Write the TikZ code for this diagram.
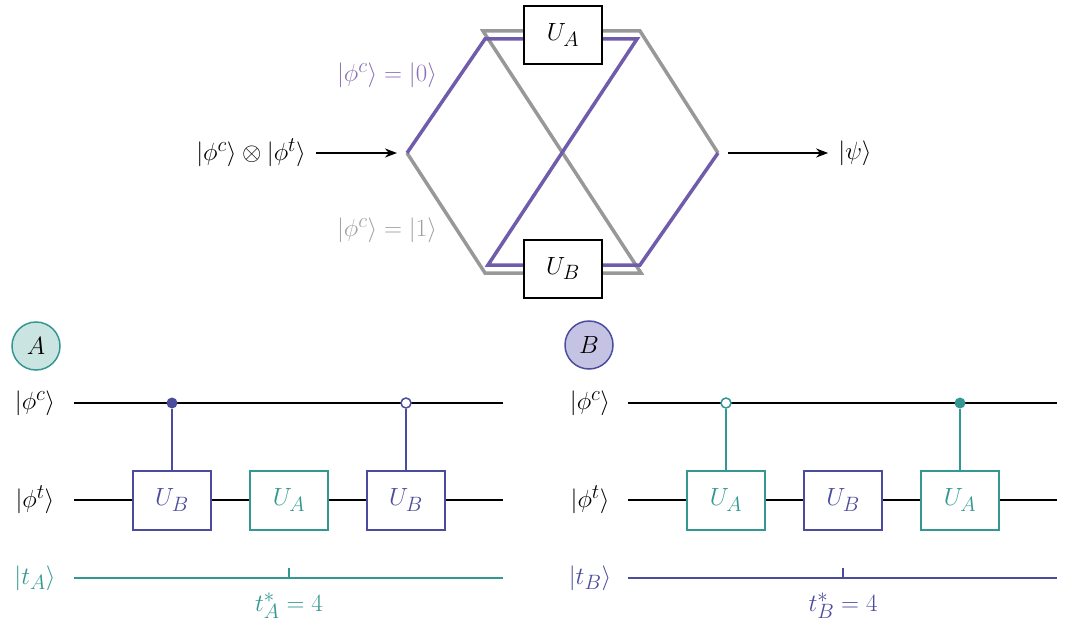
\documentclass[tikz,border=0pt]{standalone}
\usetikzlibrary{arrows.meta}
\definecolor{pathpurple}{RGB}{112,92,170}
\definecolor{labpurple}{RGB}{138,112,182}
\definecolor{pathgray}{RGB}{152,152,152}
\definecolor{labgray}{RGB}{160,160,160}
\definecolor{tealA}{RGB}{51,152,146}
\definecolor{tealfill}{RGB}{202,228,226}
\definecolor{indigoB}{RGB}{76,76,158}
\definecolor{indigofill}{RGB}{197,195,227}
\tikzset{
  lbl/.style={inner sep=0pt, font=\Huge},
  topbox/.style={draw=black, line width=2pt, fill=white, minimum width=78pt, minimum height=58pt, inner sep=0pt, font=\Huge},
  gate/.style={line width=2pt, fill=white, minimum width=78pt, minimum height=59pt, inner sep=0pt, font=\Huge},
  wire/.style={line width=2pt},
  route/.style={line width=3.5pt, line join=miter},
  arr/.style={line width=2pt, -{Stealth[length=12pt,width=9pt]}},
  ctrlon/.style={circle, fill, inner sep=0pt, minimum size=11pt},
  ctrloff/.style={circle, draw, fill=white, line width=1.5pt, inner sep=0pt, minimum size=10pt},
  badge/.style={circle, line width=1.5pt, minimum size=48pt, inner sep=0pt, font=\Huge}
}
\begin{document}
\begin{tikzpicture}[x=1pt,y=-1pt]
\useasboundingbox (0,0) rectangle (1070,626);
% ---------- top interferometer ----------
\coordinate (L) at (407,153);
\coordinate (R) at (718,153);
\coordinate (g1) at (485,273);
\coordinate (g2) at (641,273);
\coordinate (g3) at (483,31);
\coordinate (g4) at (640,31);
\coordinate (p1) at (485,39);
\coordinate (p2) at (637,39);
\coordinate (p3) at (488,265);
\coordinate (p4) at (640,265);
\draw[route, pathgray] (L) -- (g1) -- (g2) -- (g3) -- (g4) -- (R);
\draw[route, pathpurple] (L) -- (p1) -- (p2) -- (p3) -- (p4) -- (R);
\node[topbox] (UA) at (563,35) {$U_A$};
\node[topbox] (UB) at (563,268.5) {$U_B$};
\node[lbl, text=labpurple] (lab0) at (387,75) {$|\phi^c\rangle = |0\rangle$};
\node[lbl, text=labgray] (lab1) at (387,230) {$|\phi^c\rangle = |1\rangle$};
\node[lbl] (in) at (251,153) {$|\phi^c\rangle \otimes |\phi^t\rangle$};
\node[lbl] (psi) at (855,153) {$|\psi\rangle$};
\draw[arr, shorten <=10pt, shorten >=10pt] (in) -- (L);
\draw[arr, shorten <=10pt, shorten >=10pt] (R) -- (psi);
% ---------- circuit A ----------
\node[badge, draw=tealA, fill=tealfill] (badgeA) at (36,346) {$A$};
\node[lbl] (aLc) at (35,403) {$|\phi^c\rangle$};
\node[lbl] (aLt) at (35,500) {$|\phi^t\rangle$};
\node[lbl, text=tealA] (aLT) at (35,578) {$|t_A\rangle$};
\coordinate (aCs) at (74,403); \coordinate (aCe) at (503,403);
\coordinate (aTs) at (74,500); \coordinate (aTe) at (503,500);
\coordinate (aKs) at (74,578); \coordinate (aKe) at (503,578);
\coordinate (aTk) at (289,568); \coordinate (aTkb) at (289,578);
\draw[wire] (aCs) -- (aCe);
\draw[wire] (aTs) -- (aTe);
\draw[wire, tealA] (aKs) -- (aKe);
\draw[wire, tealA] (aTk) -- (aTkb);
\node[gate, draw=indigoB, text=indigoB] (aG1) at (172,500) {$U_B$};
\node[gate, draw=tealA, text=tealA] (aG2) at (289,500) {$U_A$};
\node[gate, draw=indigoB, text=indigoB] (aG3) at (406,500) {$U_B$};
\node[ctrlon, indigoB] (aC1) at (172,403) {};
\node[ctrloff, draw=indigoB] (aC3) at (406,403) {};
\draw[wire, indigoB] (aC1) -- (aG1);
\draw[wire, indigoB] (aC3) -- (aG3);
\node[lbl, text=tealA] (aStar) at (289,606) {$t_A^* = 4$};
% ---------- circuit B ----------
\node[badge, draw=indigoB, fill=indigofill] (badgeB) at (589,345) {$B$};
\node[lbl] (bLc) at (590,403) {$|\phi^c\rangle$};
\node[lbl] (bLt) at (590,500) {$|\phi^t\rangle$};
\node[lbl, text=indigoB] (bLT) at (590,578) {$|t_B\rangle$};
\coordinate (bCs) at (628,403); \coordinate (bCe) at (1057,403);
\coordinate (bTs) at (628,500); \coordinate (bTe) at (1057,500);
\coordinate (bKs) at (628,578); \coordinate (bKe) at (1057,578);
\coordinate (bTk) at (843,568); \coordinate (bTkb) at (843,578);
\draw[wire] (bCs) -- (bCe);
\draw[wire] (bTs) -- (bTe);
\draw[wire, indigoB] (bKs) -- (bKe);
\draw[wire, indigoB] (bTk) -- (bTkb);
\node[gate, draw=tealA, text=tealA] (bG1) at (726,500) {$U_A$};
\node[gate, draw=indigoB, text=indigoB] (bG2) at (843,500) {$U_B$};
\node[gate, draw=tealA, text=tealA] (bG3) at (960,500) {$U_A$};
\node[ctrloff, draw=tealA] (bC1) at (726,403) {};
\node[ctrlon, tealA] (bC3) at (960,403) {};
\draw[wire, tealA] (bC1) -- (bG1);
\draw[wire, tealA] (bC3) -- (bG3);
\node[lbl, text=indigoB] (bStar) at (843,606) {$t_B^* = 4$};
\end{tikzpicture}
\end{document}
